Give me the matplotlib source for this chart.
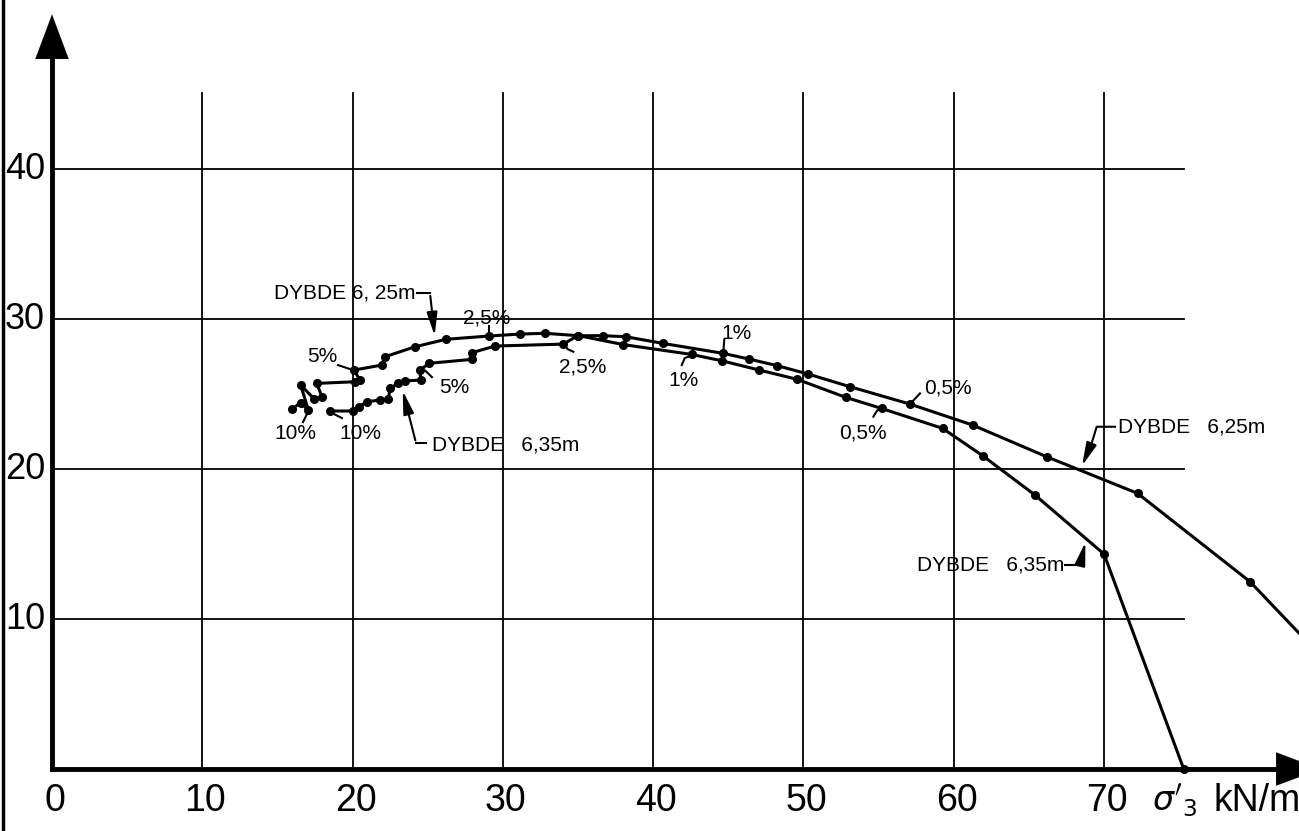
import matplotlib
matplotlib.use("Agg")
import matplotlib.pyplot as plt

# stress path, depth 6,25 m (sigma'3 kN/m2, q)
d625_x = [15.95, 16.55, 17.05, 16.55, 17.45, 17.98, 17.61, 20.16, 20.49, 20.09,
          21.94, 22.16, 24.15, 26.21, 29.1, 31.14, 32.8, 35.02, 36.68, 38.19,
          40.63, 44.67, 46.39, 48.26, 50.32, 53.09, 57.09, 61.26, 66.18, 72.23,
          79.7, 83.6]
d625_y = [24.0, 24.42, 23.93, 25.6, 24.67, 24.78, 25.71, 25.82, 25.93, 26.6,
          26.93, 27.49, 28.15, 28.65, 28.87, 29.0, 29.05, 28.89, 28.89, 28.82,
          28.38, 27.71, 27.33, 26.89, 26.33, 25.49, 24.33, 22.93, 20.82, 18.38,
          12.5, 8.4]

# stress path, depth 6,35 m
d635_x = [18.5, 20.05, 20.45, 20.94, 21.82, 22.38, 22.49, 23.04, 23.52, 24.53,
          24.48, 25.1, 27.92, 27.92, 29.47, 34.02, 35.0, 38.0, 42.56, 44.56,
          47.06, 49.59, 52.81, 55.2, 59.26, 61.92, 65.4, 70.0, 75.3]
d635_y = [23.87, 23.87, 24.15, 24.49, 24.6, 24.67, 25.38, 25.71, 25.88, 25.93,
          26.6, 27.05, 27.31, 27.75, 28.2, 28.33, 28.9, 28.3, 27.64, 27.22,
          26.6, 25.98, 24.78, 24.04, 22.71, 20.89, 18.27, 14.33, 0.0]

x_ticks = [0, 10, 20, 30, 40, 50, 60, 70]
y_ticks = [10, 20, 30, 40]

TICKFONT = ["Liberation Sans Narrow", "Liberation Sans", "DejaVu Sans"]
LBLFONT = ["Liberation Sans", "DejaVu Sans"]

fig = plt.figure(figsize=(12.99, 8.31), dpi=100)
ax = fig.add_axes([0, 0, 1, 1])
ax.set_xlim(-3.46, 82.97)
ax.set_ylim(-4.13, 51.27)
ax.axis("off")

# grid
for gx in x_ticks[1:]:
    ax.plot([gx, gx], [0, 45.1], color="k", lw=1.3, zorder=1)
for gy in y_ticks:
    ax.plot([0, 75.3], [gy, gy], color="k", lw=1.3, zorder=1)

# axes with arrows
ax.plot([0, 0], [0, 48.6], color="k", lw=3.5, zorder=2)
ax.annotate("", xy=(0, 50.5), xytext=(0, 48.0),
            arrowprops=dict(arrowstyle="-|>,head_length=1.6,head_width=0.6",
                            color="k", lw=0.1, mutation_scale=20))
ax.plot([0, 82.0], [0, 0], color="k", lw=3.5, zorder=2)
ax.annotate("", xy=(84.6, 0), xytext=(82.0, 0), annotation_clip=False,
            arrowprops=dict(arrowstyle="-|>,head_length=1.6,head_width=0.6",
                            color="k", lw=0.1, mutation_scale=20))

for t in x_ticks:
    ax.text(t + 0.2, -2.15, str(t), ha="center", va="center", fontsize=27,
            family=TICKFONT)
for t in y_ticks:
    ax.text(-1.8, t, str(t), ha="center", va="center", fontsize=26,
            family=TICKFONT)
ax.text(73.2, -2.1, r"$\sigma'_3$", ha="left", va="center", fontsize=24)
ax.text(77.3, -2.15, "kN/m", ha="left", va="center", fontsize=27,
        family=TICKFONT, clip_on=False)

# curves
ax.plot(d625_x, d625_y, color="k", lw=2.2, marker="o", ms=5.5, zorder=3)
ax.plot(d635_x, d635_y, color="k", lw=2.2, marker="o", ms=5.5, zorder=3)

# labels and leaders
def lbl(x, y, s, size=15, ha="center"):
    ax.text(x, y, s, ha=ha, va="center", fontsize=size, family=LBLFONT)

def leader(xs, ys):
    ax.plot(xs, ys, color="k", lw=1.5, zorder=3)

def arrow(x0, y0, x1, y1):
    ax.annotate("", xy=(x1, y1), xytext=(x0, y0),
                arrowprops=dict(arrowstyle="-|>,head_length=0.7,head_width=0.16",
                                color="k", lw=1.5, mutation_scale=20))

lbl(14.77, 31.73, "DYBDE 6, 25m", ha="left")
leader([24.28, 25.15], [31.73, 31.73])
arrow(25.15, 31.73, 25.48, 28.7)

lbl(28.94, 30.1, "2,5%")
leader([29.07, 29.07], [29.55, 28.95])

lbl(18.0, 27.5, "5%")
leader([19.03, 20.03], [26.93, 26.6])

lbl(16.17, 22.4, "10%")
leader([16.7, 17.03], [23.13, 23.8])
lbl(20.49, 22.4, "10%")
leader([19.29, 18.5], [23.4, 23.8])

lbl(26.75, 25.47, "5%")
leader([25.28, 24.9, 24.62], [26.13, 26.5, 26.73])

lbl(25.28, 21.6, "DYBDE   6,35m", ha="left")
leader([24.88, 24.22], [21.73, 21.73])
arrow(24.22, 21.73, 23.29, 25.4)

lbl(35.3, 26.82, "2,5%")
leader([34.69, 34.3, 34.13], [27.82, 28.0, 28.27])

lbl(45.55, 29.04, "1%")
leader([44.73, 44.67], [28.6, 27.82])

lbl(42.0, 25.93, "1%")
leader([41.9, 42.1, 42.67], [26.93, 27.4, 27.6])

lbl(53.98, 22.38, "0,5%")
leader([54.65, 54.9, 55.27], [23.49, 23.9, 24.11])

lbl(59.58, 25.38, "0,5%")
leader([57.75, 57.09], [25.04, 24.33])

lbl(70.92, 22.82, "DYBDE   6,25m", ha="left")
leader([70.73, 69.51, 69.17], [22.82, 22.82, 21.71])
arrow(69.17, 21.71, 68.46, 20.05)

lbl(57.53, 13.6, "DYBDE   6,35m", ha="left")
leader([67.4, 68.4], [13.6, 13.6])
arrow(68.4, 13.6, 68.8, 15.3)

# scan border line on the left edge
fig.add_artist(plt.Line2D([0.002, 0.002], [0, 1], color="k", lw=2.5))

fig.savefig("out.png", dpi=100)
